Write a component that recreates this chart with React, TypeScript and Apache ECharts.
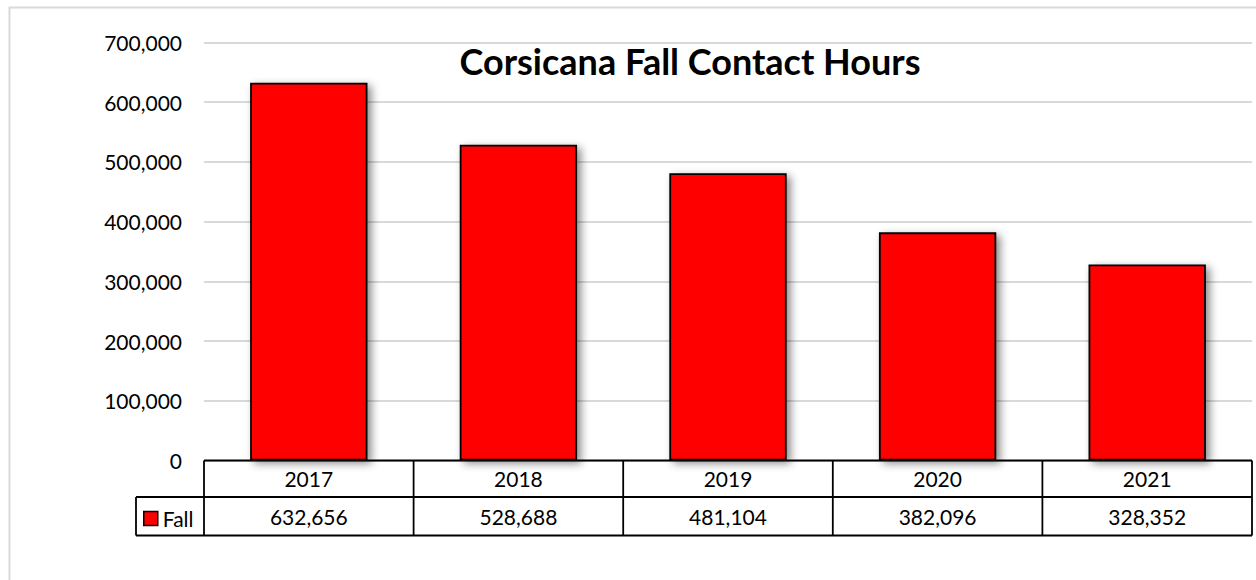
import React, { useEffect, useRef } from "react";
import * as echarts from "echarts";

const chartTitle = "Corsicana Fall Contact Hours";
const seriesName = "Fall";
const years = ["2017", "2018", "2019", "2020", "2021"];
const fallValues = [632656, 528688, 481104, 382096, 328352];
const yTicks = { min: 0, max: 700000, interval: 100000 };

const W = 1256;
const H = 580;
const GRID_LEFT = 204;
const GRID_RIGHT_X = 1252;
const GRID_TOP = 42.5;
const ZERO_Y = 460.5;
const ROW1_BOTTOM = 497;
const ROW2_BOTTOM = 535.5;
const LEGEND_LEFT = 136;
const FONT = "Lato, 'Open Sans', sans-serif";

const fmt = (v: number) => v.toLocaleString("en-US");

export default function App() {
  const ref = useRef<HTMLDivElement>(null);

  useEffect(() => {
    if (!ref.current) return;
    const chart = echarts.init(ref.current, null, { renderer: "svg" });

    const plotW = GRID_RIGHT_X - GRID_LEFT;
    const colW = plotW / years.length;
    const lineStyle = { stroke: "#000", lineWidth: 1.8 };
    const tableLines: any[] = [];
    const hLine = (x1: number, x2: number, y: number) =>
      tableLines.push({ type: "line", shape: { x1, y1: y, x2, y2: y }, style: lineStyle, z: 10 });
    const vLine = (x: number, y1: number, y2: number) =>
      tableLines.push({ type: "line", shape: { x1: x, y1, x2: x, y2 }, style: lineStyle, z: 10 });
    hLine(GRID_LEFT, GRID_RIGHT_X, ZERO_Y);
    hLine(LEGEND_LEFT, GRID_RIGHT_X, ROW1_BOTTOM);
    hLine(LEGEND_LEFT, GRID_RIGHT_X, ROW2_BOTTOM);
    vLine(LEGEND_LEFT, ROW1_BOTTOM, ROW2_BOTTOM);
    for (let i = 0; i <= years.length; i++) {
      vLine(GRID_LEFT + i * colW, ZERO_Y, ROW2_BOTTOM);
    }

    chart.setOption({
      animation: false,
      backgroundColor: "#fff",
      textStyle: { fontFamily: FONT },
      grid: {
        left: GRID_LEFT,
        right: W - GRID_RIGHT_X,
        top: GRID_TOP,
        bottom: H - ZERO_Y,
        containLabel: false,
      },
      legend: {
        left: LEGEND_LEFT + 7,
        top: 508,
        padding: 0,
        itemWidth: 14,
        itemHeight: 14,
        icon: "rect",
        itemStyle: { color: "#ff0000", borderColor: "#000", borderWidth: 1.5 },
        textStyle: { fontSize: 21, color: "#000", fontFamily: FONT },
        data: [seriesName],
      },
      xAxis: [
        {
          type: "category",
          data: years,
          position: "bottom",
          axisLine: { show: false },
          axisTick: { show: false },
          axisLabel: {
            margin: 18,
            verticalAlign: "middle",
            fontSize: 21,
            color: "#000",
            fontFamily: FONT,
          },
        },
        {
          type: "category",
          data: fallValues.map(fmt),
          position: "bottom",
          axisLine: { show: false },
          axisTick: { show: false },
          axisLabel: {
            margin: 56,
            verticalAlign: "middle",
            fontSize: 21,
            color: "#000",
            fontFamily: FONT,
          },
        },
      ],
      yAxis: {
        type: "value",
        min: yTicks.min,
        max: yTicks.max,
        interval: yTicks.interval,
        axisLine: { show: false },
        axisTick: { show: false },
        axisLabel: {
          margin: 22,
          fontSize: 21,
          color: "#000",
          fontFamily: FONT,
          formatter: (v: number) => fmt(v),
        },
        splitLine: { lineStyle: { color: "#d9d9d9", width: 1.8 } },
      },
      series: [
        {
          name: seriesName,
          type: "bar",
          xAxisIndex: 0,
          data: fallValues,
          barWidth: "56%",
          itemStyle: {
            color: "#ff0000",
            borderColor: "#000",
            borderWidth: 1.8,
            shadowColor: "rgba(0,0,0,0.45)",
            shadowBlur: 8,
            shadowOffsetX: 4,
            shadowOffsetY: 3,
          },
        },
      ],
      graphic: [
        {
          type: "rect",
          shape: { x: 9.5, y: 7.5, width: 1300, height: 700 },
          style: { fill: "none", stroke: "#d9d9d9", lineWidth: 2 },
          silent: true,
          z: 0,
        },
        {
          type: "text",
          x: 690,
          y: 61,
          style: {
            text: chartTitle,
            fontSize: 36,
            fontWeight: "bold",
            fontFamily: FONT,
            fill: "#000",
            align: "center",
            verticalAlign: "middle",
          },
          z: 20,
        },
        ...tableLines,
      ],
    });

    return () => chart.dispose();
  }, []);

  return (
    <div
      ref={ref}
      style={{ position: "fixed", left: 0, top: 0, width: W, height: H, background: "#fff" }}
    />
  );
}
